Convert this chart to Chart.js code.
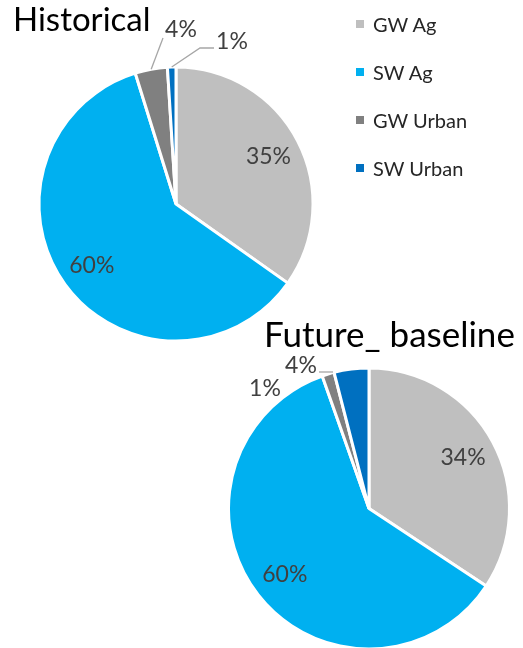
<!DOCTYPE html>
<html>
<head>
<meta charset="utf-8">
<script src="https://cdn.jsdelivr.net/npm/chart.js@4.4.0/dist/chart.umd.min.js"></script>
<style>
  body { margin: 0; background: #fff; }
  #page { position: relative; width: 523px; height: 648px; overflow: hidden; font-family: Lato, "Open Sans", sans-serif; }
  canvas { position: absolute; left: 0; top: 0; }
  .title { position: absolute; color: #000; line-height: 1; white-space: pre; }
  #legend { position: absolute; left: 356px; top: 0px; }
  .item { display: flex; align-items: center; height: 48px; color: #262626; font-size: 20px; }
  .item i { display: inline-block; width: 8px; height: 8px; margin-right: 9px; }
</style>
</head>
<body>
<div id="page">
  <canvas id="historical" width="523" height="648"></canvas>
  <canvas id="future" width="523" height="648"></canvas>
  <div class="title" style="left:13px; top:2px; font-size:33px;">Historical</div>
  <div class="title" style="left:264px; top:316px; font-size:35px;">Future_ baseline</div>
  <div id="legend"></div>
</div>
<script>
// water use shares (%) by source and sector
const categories = ['GW Ag', 'SW Ag', 'GW Urban', 'SW Urban'];
const historicalShares = [34.8, 60.4, 3.8, 1.0];
const futureShares = [34.3, 60.3, 1.4, 4.0];
const sliceColors = ['#BFBFBF', '#00B0F0', '#808080', '#0070C0'];

// legend built from the same categories/colours
const legendEl = document.getElementById('legend');
categories.forEach((name, i) => {
    const row = document.createElement('div');
    row.className = 'item';
    row.innerHTML = '<i style="background:' + sliceColors[i] + '"></i>' + name;
    legendEl.appendChild(row);
});

// draws the % labels: big slices inside, small slices outside with leader lines
const pieLabels = {
    id: 'pieLabels',
    afterDatasetsDraw(chart, args, opts) {
        const ctx = chart.ctx;
        const meta = chart.getDatasetMeta(0);
        const values = chart.data.datasets[0].data;
        ctx.save();
        ctx.font = '23px Lato, "Open Sans", sans-serif';
        ctx.fillStyle = '#404040';
        ctx.textAlign = 'center';
        ctx.textBaseline = 'middle';
        meta.data.forEach((arc, i) => {
            const text = Math.round(values[i]) + '%';
            const mid = (arc.startAngle + arc.endAngle) / 2;
            const out = opts.outside[i];
            if (!out) {
                const r = arc.outerRadius * 0.76;
                ctx.fillText(text, arc.x + Math.cos(mid) * r, arc.y + Math.sin(mid) * r);
                return;
            }
            if (out.leader) {
                ctx.strokeStyle = '#A6A6A6';
                ctx.lineWidth = 1.3;
                ctx.beginPath();
                out.leader.forEach((p, k) => k ? ctx.lineTo(p[0], p[1]) : ctx.moveTo(p[0], p[1]));
                if (out.toArc) {
                    ctx.lineTo(arc.x + Math.cos(mid) * arc.outerRadius, arc.y + Math.sin(mid) * arc.outerRadius);
                }
                ctx.stroke();
            }
            ctx.fillText(text, out.x, out.y);
        });
        ctx.restore();
    }
};

function makePie(id, shares, radius, padding, outside) {
    return new Chart(document.getElementById(id), {
        type: 'pie',
        data: {
            labels: categories,
            datasets: [{
                data: shares,
                backgroundColor: sliceColors,
                borderColor: '#FFFFFF',
                borderWidth: 3,
                radius: radius
            }]
        },
        options: {
            responsive: false,
            animation: false,
            events: [],
            layout: { padding: padding },
            plugins: {
                legend: { display: false },
                tooltip: { enabled: false },
                pieLabels: { outside: outside }
            }
        },
        plugins: [pieLabels]
    });
}

makePie('historical', historicalShares, 137, { left: 0, right: 171, top: 0, bottom: 240 }, {
    2: { x: 181, y: 30, leader: [[163, 38]], toArc: true },
    3: { x: 232, y: 42, leader: [[214, 48], [200, 48]], toArc: true }
});

makePie('future', futureShares, 140.5, { left: 215, right: 0, top: 369, bottom: 0 }, {
    2: { x: 265, y: 389 },
    3: { x: 301, y: 366, leader: [[319, 372], [333, 372]], toArc: false }
});
</script>
</body>
</html>
